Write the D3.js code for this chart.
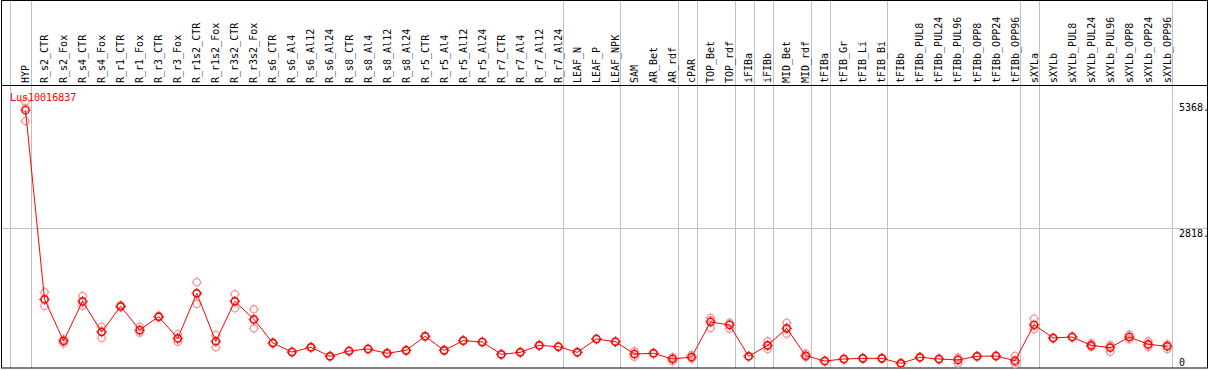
<!DOCTYPE html>
<html>
<head>
<meta charset="utf-8">
<script src="https://cdn.jsdelivr.net/npm/d3@7"></script>
<style>
  body { margin: 0; background: #fff; }
  text { font-family: "DejaVu Sans Mono", monospace; font-size: 10px; }
</style>
</head>
<body>
<div id="viz"></div>
<script>
let gene_name = "Lus10016837";

let samples = ["HYP", "R_s2_CTR", "R_s2_Fox", "R_s4_CTR", "R_s4_Fox", "R_r1_CTR", "R_r1_Fox",
    "R_r3_CTR", "R_r3_Fox", "R_r1s2_CTR", "R_r1s2_Fox", "R_r3s2_CTR", "R_r3s2_Fox",
    "R_s6_CTR", "R_s6_Al4", "R_s6_Al12", "R_s6_Al24", "R_s8_CTR", "R_s8_Al4", "R_s8_Al12", "R_s8_Al24",
    "R_r5_CTR", "R_r5_Al4", "R_r5_Al12", "R_r5_Al24", "R_r7_CTR", "R_r7_Al4", "R_r7_Al12", "R_r7_Al24",
    "LEAF_N", "LEAF_P", "LEAF_NPK", "SAM", "AR_Bet", "AR_rdf", "cPAR", "TOP_Bet", "TOP_rdf",
    "iFIBa", "iFIBb", "MID_Bet", "MID_rdf", "tFIBa", "tFIB_Gr", "tFIB_Li", "tFIB_Bi",
    "tFIBb", "tFIBb_PUL8", "tFIBb_PUL24", "tFIBb_PUL96", "tFIBb_OPP8", "tFIBb_OPP24", "tFIBb_OPP96",
    "sXYLa", "sXYLb", "sXYLb_PUL8", "sXYLb_PUL24", "sXYLb_PUL96", "sXYLb_OPP8", "sXYLb_OPP24", "sXYLb_OPP96"];

// last sample of each group (a grey line is drawn after it)
let group_ends = ["HYP", "R_r7_Al24", "LEAF_NPK", "AR_rdf", "cPAR", "TOP_rdf", "iFIBa", "iFIBb",
    "MID_rdf", "tFIBa", "tFIB_Bi", "tFIBb_OPP96", "sXYLa", "sXYLb_OPP96"];

let mean_values = [5193, 1369, 526, 1329, 708, 1228, 748, 1018, 580, 1491, 520, 1329, 965,
    486, 303, 398, 216, 324, 364, 277, 337, 621, 337, 533, 506, 256, 297, 438, 411,
    297, 566, 512, 263, 277, 162, 202, 910, 850, 216, 438, 782, 229, 121, 162, 175, 175,
    74, 196, 162, 142, 216, 223, 128, 856, 587, 607, 438, 391, 607, 459, 418];

let rep_1 = [5368, 1511, 560, 1436, 815, 1250, 815, 1030, 662, 1714, 647, 1471, 1167,
    498, 312, 408, 226, 332, 372, 286, 345, 630, 346, 540, 515, 264, 306, 446, 420,
    305, 574, 520, 318, 285, 196, 243, 997, 896, 224, 520, 896, 270, 128, 170, 183, 182,
    80, 204, 170, 189, 224, 232, 223, 977, 595, 615, 479, 445, 654, 520, 459];

let rep_2 = [5235, 1234, 479, 1240, 587, 1210, 694, 1005, 512, 1275, 399, 1188, 783,
    474, 294, 389, 208, 316, 356, 270, 329, 612, 328, 526, 498, 248, 290, 430, 403,
    290, 558, 504, 209, 270, 115, 168, 789, 775, 208, 364, 674, 202, 114, 155, 168, 168,
    68, 188, 155, 74, 209, 215, 101, 763, 580, 600, 405, 310, 560, 411, 364];

let rep_3 = [4977, 1362, 540, 1311, 722, 1224, 735, 1019, 566, 1484, 514, 1328, 945,
    486, 303, 397, 214, 324, 364, 275, 337, 621, 337, 533, 505, 256, 295, 438, 410,
    296, 566, 512, 262, 276, 175, 195, 944, 879, 216, 430, 776, 215, 121, 161, 174, 175,
    74, 196, 161, 163, 215, 222, 60, 828, 586, 606, 430, 418, 607, 446, 431];

let y_max = 5368;
let y_ticks = [5368, 2818, 0];

let width_chart = 1209, height_chart = 370;
let header_bottom = 85;
let plot_top = 101.6, plot_bottom = 367;

function draw_marker(g, x, y, colour){
    let r = 3.6;
    g.append("circle")
        .attr("cx", x).attr("cy", y).attr("r", r)
        .attr("fill", "none")
        .attr("stroke", colour)
        .attr("stroke-width", 1.4);
    // little ticks at the four points
    [[0, -1], [0, 1], [-1, 0], [1, 0]].forEach(function(p){
        g.append("line")
            .attr("x1", x + p[0]*(r + 0.5)).attr("y1", y + p[1]*(r + 0.5))
            .attr("x2", x + p[0]*(r + 1.6)).attr("y2", y + p[1]*(r + 1.6))
            .attr("stroke", colour)
            .attr("stroke-width", 1);
    });
}

function draw_chart(to_plot){
    let svg = d3.select(to_plot)
        .append("svg")
        .attr("width", width_chart)
        .attr("height", height_chart);

    let x_scale = d3.scalePoint().domain(samples).range([25.5, 1167.3]);
    let step = x_scale.step();
    let y_scale = d3.scaleLinear().domain([0, y_max]).range([plot_bottom, plot_top]);

    // grey separators between groups
    let sep_x = [x_scale(samples[0]) - step + 4].concat(group_ends.map(function(s){ return x_scale(s) + 5; }));
    svg.selectAll(".sep")
        .data(sep_x)
        .enter()
        .append("line")
        .attr("class", "sep")
        .attr("x1", function(d){ return Math.round(d) + 0.5; })
        .attr("x2", function(d){ return Math.round(d) + 0.5; })
        .attr("y1", 0)
        .attr("y2", plot_bottom + 1)
        .attr("stroke", "#c0c0c0")
        .attr("stroke-width", 1);

    // horizontal grid at middle tick
    svg.append("line")
        .attr("x1", 1).attr("x2", 1208)
        .attr("y1", Math.round(y_scale(y_ticks[1])) + 0.5)
        .attr("y2", Math.round(y_scale(y_ticks[1])) + 0.5)
        .attr("stroke", "#c0c0c0");

    // frame + header rule
    svg.append("rect")
        .attr("x", 1.5).attr("y", 0.5)
        .attr("width", 1206).attr("height", 367.5)
        .attr("fill", "none")
        .attr("stroke", "black");
    svg.append("line")
        .attr("x1", 1).attr("x2", 1208)
        .attr("y1", header_bottom + 0.5).attr("y2", header_bottom + 0.5)
        .attr("stroke", "black");

    // rotated sample labels
    svg.selectAll(".sample_label")
        .data(samples)
        .enter()
        .append("text")
        .attr("class", "sample_label")
        .attr("transform", function(d){
            return "translate(" + (x_scale(d) + 3.5) + "," + (header_bottom - 2) + ") rotate(-90)";
        })
        .attr("fill", "black")
        .text(function(d){ return d; });

    // tick labels on the right
    svg.selectAll(".tick_label")
        .data(y_ticks)
        .enter()
        .append("text")
        .attr("class", "tick_label")
        .attr("x", 1179)
        .attr("y", function(d){ return Math.min(y_scale(d) + 9, plot_bottom - 1.5); })
        .attr("fill", "black")
        .text(function(d){ return d === 0 ? "0" : d + "."; });

    // replicates
    let reps = svg.append("g");
    [rep_1, rep_2, rep_3].forEach(function(rep){
        rep.forEach(function(v, i){
            draw_marker(reps, x_scale(samples[i]), y_scale(v), "#f29a9a");
        });
    });

    // mean line
    let line = d3.line()
        .x(function(d, i){ return x_scale(samples[i]); })
        .y(function(d){ return y_scale(d); });
    svg.append("path")
        .datum(mean_values)
        .attr("d", line)
        .attr("fill", "none")
        .attr("stroke", "red")
        .attr("stroke-width", 1);

    let means = svg.append("g");
    mean_values.forEach(function(v, i){
        draw_marker(means, x_scale(samples[i]), y_scale(v), "red");
    });

    svg.append("text")
        .attr("x", 10)
        .attr("y", 101)
        .attr("fill", "red")
        .text(gene_name);
}

draw_chart("#viz");
</script>
</body>
</html>
